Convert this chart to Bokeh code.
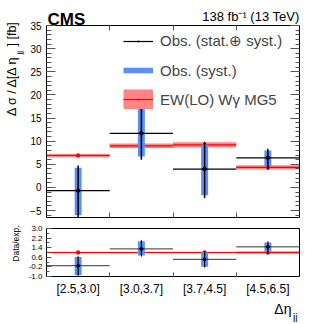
import math
import numpy as np
from bokeh.plotting import figure
from bokeh.layouts import column
from bokeh.models import (ColumnDataSource, FixedTicker, LinearAxis, Range1d, Label,
                          Legend, LegendItem, CustomJSTickFormatter,
                          PrintfTickFormatter)
from bokeh.embed import file_html
from bokeh.resources import INLINE

FONT = "Liberation Sans"

# ---------------- data ----------------
bins = ["[2.5,3.0]", "[3.0,3.7]", "[3.7,4.5]", "[4.5,6.5]"]
obs = [-0.7, 11.7, 3.95, 6.4]
tot_lo = [-6.4, 6.0, -2.3, 3.8]
tot_hi = [4.75, 18.2, 9.9, 8.35]
syst_lo = [-6.0, 6.7, -1.7, 4.6]
syst_hi = [4.25, 17.5, 9.3, 8.0]
exp = [6.9, 9.0, 9.2, 4.35]
exp_err = [0.4, 0.5, 0.55, 0.45]

y_ticks_top = [-5, 0, 5, 10, 15, 20, 25, 30, 35]
y_ticks_ratio = [-1.0, -0.2, 0.6, 1.4, 2.2, 3.0]
bin_edges = [1, 2, 3]

X_LIM = (0, 4)
Y_LIM_TOP = (-6.5, 35)
Y_LIM_RATIO = (-1, 3)

BLUE = "#5b8ff6"
RED = "#ff0000"
PINK = "#ff8484"
TICK_C = "#555555"

n = len(bins)
left = np.arange(n, dtype=float)
right = left + 1
center = left + 0.5
o = np.array(obs); e = np.array(exp); ee = np.array(exp_err)

src = ColumnDataSource(dict(
    left=left, right=right, center=center,
    obs=o, tot_lo=tot_lo, tot_hi=tot_hi, syst_lo=syst_lo, syst_hi=syst_hi,
    exp=e, exp_lo=e - ee, exp_hi=e + ee,
    r_obs=o / e, r_tot_lo=np.array(tot_lo) / e, r_tot_hi=np.array(tot_hi) / e,
    r_syst_lo=np.array(syst_lo) / e, r_syst_hi=np.array(syst_hi) / e,
    r_exp=e / e, r_exp_lo=(e - ee) / e, r_exp_hi=(e + ee) / e,
))

empty = CustomJSTickFormatter(code="return ''")

# ---------- pixel geometry of the plot boxes inside each canvas ----------
W = 330
BOX_L, BOX_R = 46, 299          # x pixels of the box edges
TOP_H, TOP_BOX_T, TOP_BOX_B = 222, 25, 217
RAT_H, RAT_BOX_T, RAT_BOX_B = 100, 6, 54


def ranges(ylim, H, bt, bb):
    kx = (BOX_R - BOX_L) / (X_LIM[1] - X_LIM[0])
    ky = (bb - bt) / (ylim[1] - ylim[0])
    xr = Range1d(X_LIM[0] - BOX_L / kx, X_LIM[1] + (W - BOX_R) / kx)
    yr = Range1d(ylim[0] - (H - bb) / ky, ylim[1] + bt / ky)
    return xr, yr


def make_fig(H, ylim, bt, bb):
    xr, yr = ranges(ylim, H, bt, bb)
    f = figure(width=W, height=H, x_range=xr, y_range=yr, output_backend="svg",
               toolbar_location=None, min_border=0, min_border_left=0,
               min_border_right=0, min_border_top=0, min_border_bottom=0)
    f.grid.visible = False
    f.outline_line_color = None
    f.background_fill_color = "white"
    f.border_fill_color = "white"
    return f


def style_y(ax, loc, ylim, ticks, minor, tin, mtin, size, fmt=None):
    ax.fixed_location = loc
    ax.bounds = ylim
    ax.ticker = FixedTicker(ticks=ticks, minor_ticks=minor)
    if fmt is not None:
        ax.formatter = fmt
    ax.major_tick_in = tin
    ax.major_tick_out = 0
    ax.minor_tick_in = mtin
    ax.minor_tick_out = 0
    ax.major_tick_line_color = TICK_C
    ax.minor_tick_line_color = TICK_C
    ax.axis_line_color = "black"
    ax.major_label_text_font = FONT
    ax.major_label_text_font_size = size
    ax.major_label_text_color = "black"
    ax.major_label_standoff = 5


def style_x_edges(ax, loc, tin):
    ax.fixed_location = loc
    ax.bounds = X_LIM
    ax.ticker = FixedTicker(ticks=bin_edges, minor_ticks=[])
    ax.formatter = empty
    ax.major_tick_in = tin
    ax.major_tick_out = 0
    ax.minor_tick_in = 0
    ax.minor_tick_out = 0
    ax.major_label_standoff = 0
    ax.major_label_text_font_size = "0px"
    ax.major_tick_line_color = TICK_C
    ax.axis_line_color = "black"


def slabel(fig, x, y, text, size, H, **kw):
    # x, y given as pixels from the canvas top-left
    fig.add_layout(Label(x=x, y=H - y, x_units="screen", y_units="screen", text=text,
                         text_font=FONT, text_font_size=size, text_color="black", **kw))


ang = math.pi / 2
minor_top = list(range(-6, 36))

# ---------------- top panel ----------------
p = make_fig(TOP_H, Y_LIM_TOP, TOP_BOX_T, TOP_BOX_B)
style_y(p.yaxis[0], X_LIM[0], Y_LIM_TOP, y_ticks_top, minor_top, 9, 5, "10px")
style_x_edges(p.xaxis[0], Y_LIM_TOP[0], 5)

ax_r = LinearAxis()
style_y(ax_r, X_LIM[1], Y_LIM_TOP, y_ticks_top, minor_top, 9, 4, "0px", empty)
p.add_layout(ax_r, "right")

ax_t = LinearAxis()
style_x_edges(ax_t, Y_LIM_TOP[1], 5)
p.add_layout(ax_t, "above")

p.quad(left="left", right="right", bottom="exp_lo", top="exp_hi", source=src,
       fill_color=PINK, line_color=None)
p.segment(x0="left", y0="exp", x1="right", y1="exp", source=src, line_color=RED, line_width=1.2)
p.scatter(x="center", y="exp", source=src, size=3.5, color=RED)
p.vbar(x="center", width=0.11, bottom="syst_lo", top="syst_hi", source=src,
       fill_color=BLUE, line_color=None)
p.segment(x0="left", y0="obs", x1="right", y1="obs", source=src, line_color="black", line_width=1.2)
p.segment(x0="center", y0="tot_lo", x1="center", y1="tot_hi", source=src,
          line_color="black", line_width=1.5)
p.scatter(x="center", y="obs", source=src, size=3.5, color="black")

# legend proxies (single NaN point so the legend visuals exist)
nan = [float("nan")]
l1 = p.line(x=nan, y=nan, line_color="black", line_width=1.2)
s1 = p.scatter(x=nan, y=nan, marker="dot", size=3, line_color="black", fill_color="black")
l2 = p.line(x=nan, y=nan, line_color=BLUE, line_width=5.5)
l3a = p.line(x=nan, y=nan, line_color=PINK, line_width=20)
l3b = p.line(x=nan, y=nan, line_color=RED, line_width=1.2)
s3 = p.scatter(x=nan, y=nan, marker="dot", size=3, line_color=RED, fill_color=RED)

legend = Legend(items=[
    LegendItem(label="Obs. (stat.\u2295 syst.)", renderers=[l1, s1]),
    LegendItem(label="Obs. (syst.)", renderers=[l2]),
    LegendItem(label="EW(LO) W\u03b3 MG5", renderers=[l3a, l3b, s3]),
], location=(123, 113), glyph_width=30, glyph_height=20, label_height=20,
    spacing=9, padding=0, margin=0, label_standoff=7,
    label_text_font=FONT, label_text_font_size="15px",
    border_line_alpha=0, background_fill_alpha=0)
p.add_layout(legend)

slabel(p, 47, 18.5, "CMS", "17px", TOP_H, text_font_style="bold", text_baseline="alphabetic")
slabel(p, 299, 16, "138 fb\u207b\u00b9 (13 TeV)", "13px", TOP_H, text_align="right",
       text_baseline="alphabetic")
slabel(p, 11, 55, "\u0394 \u03c3 / \u0394[\u0394 \u03b7", "12.5px", TOP_H, angle=ang,
       text_align="right", text_baseline="middle")
slabel(p, 19, 54, "jj", "8px", TOP_H, angle=ang, text_align="left", text_baseline="middle")
slabel(p, 11, 46, "] [fb]", "12.5px", TOP_H, angle=ang, text_align="left",
       text_baseline="middle")

# ---------------- ratio panel ----------------
r = make_fig(RAT_H, Y_LIM_RATIO, RAT_BOX_T, RAT_BOX_B)
style_y(r.yaxis[0], X_LIM[0], Y_LIM_RATIO, y_ticks_ratio, [-0.6, 0.2, 1.0, 1.8, 2.6],
        5, 3, "8px", PrintfTickFormatter(format="%.1f"))
r.yaxis.major_label_standoff = 4
style_x_edges(r.xaxis[0], Y_LIM_RATIO[0], 4)

ax_rr = LinearAxis()
style_y(ax_rr, X_LIM[1], Y_LIM_RATIO, [], [], 0, 0, "0px", empty)
r.add_layout(ax_rr, "right")
ax_rt = LinearAxis()
style_x_edges(ax_rt, Y_LIM_RATIO[1], 0)
r.add_layout(ax_rt, "above")

ax_names = LinearAxis(ticker=FixedTicker(ticks=list(center), minor_ticks=[]),
                      formatter=CustomJSTickFormatter(args=dict(names=bins),
                                                      code="return names[index]"),
                      fixed_location=Y_LIM_RATIO[0], bounds=X_LIM,
                      major_tick_in=0, major_tick_out=0, minor_tick_in=0, minor_tick_out=0,
                      axis_line_color=None, major_label_standoff=5,
                      major_label_text_font=FONT, major_label_text_font_size="12px",
                      major_label_text_color="black")
r.add_layout(ax_names, "below")

r.quad(left="left", right="right", bottom="r_exp_lo", top="r_exp_hi", source=src,
       fill_color=PINK, line_color=None)
r.segment(x0="left", y0="r_exp", x1="right", y1="r_exp", source=src, line_color=RED, line_width=1.0)
r.scatter(x="center", y="r_exp", source=src, size=3.5, color=RED)
r.vbar(x="center", width=0.11, bottom="r_syst_lo", top="r_syst_hi", source=src,
       fill_color=BLUE, line_color=None)
r.segment(x0="left", y0="r_obs", x1="right", y1="r_obs", source=src, line_color="#333333", line_width=1.0)
r.segment(x0="center", y0="r_tot_lo", x1="center", y1="r_tot_hi", source=src,
          line_color="black", line_width=1.2)
r.scatter(x="center", y="r_obs", source=src, size=3, color="black")

slabel(r, 15, 21, "Data/exp.", "8.5px", RAT_H, angle=ang, text_align="center",
       text_baseline="middle")
slabel(r, 291, 86, "\u0394\u03b7", "14px", RAT_H, text_align="right", text_baseline="alphabetic")
slabel(r, 292.5, 95, "jj", "10px", RAT_H, text_align="left", text_baseline="alphabetic")

layout = column(p, r, spacing=0)
open("out.html", "w").write(file_html(layout, INLINE))
